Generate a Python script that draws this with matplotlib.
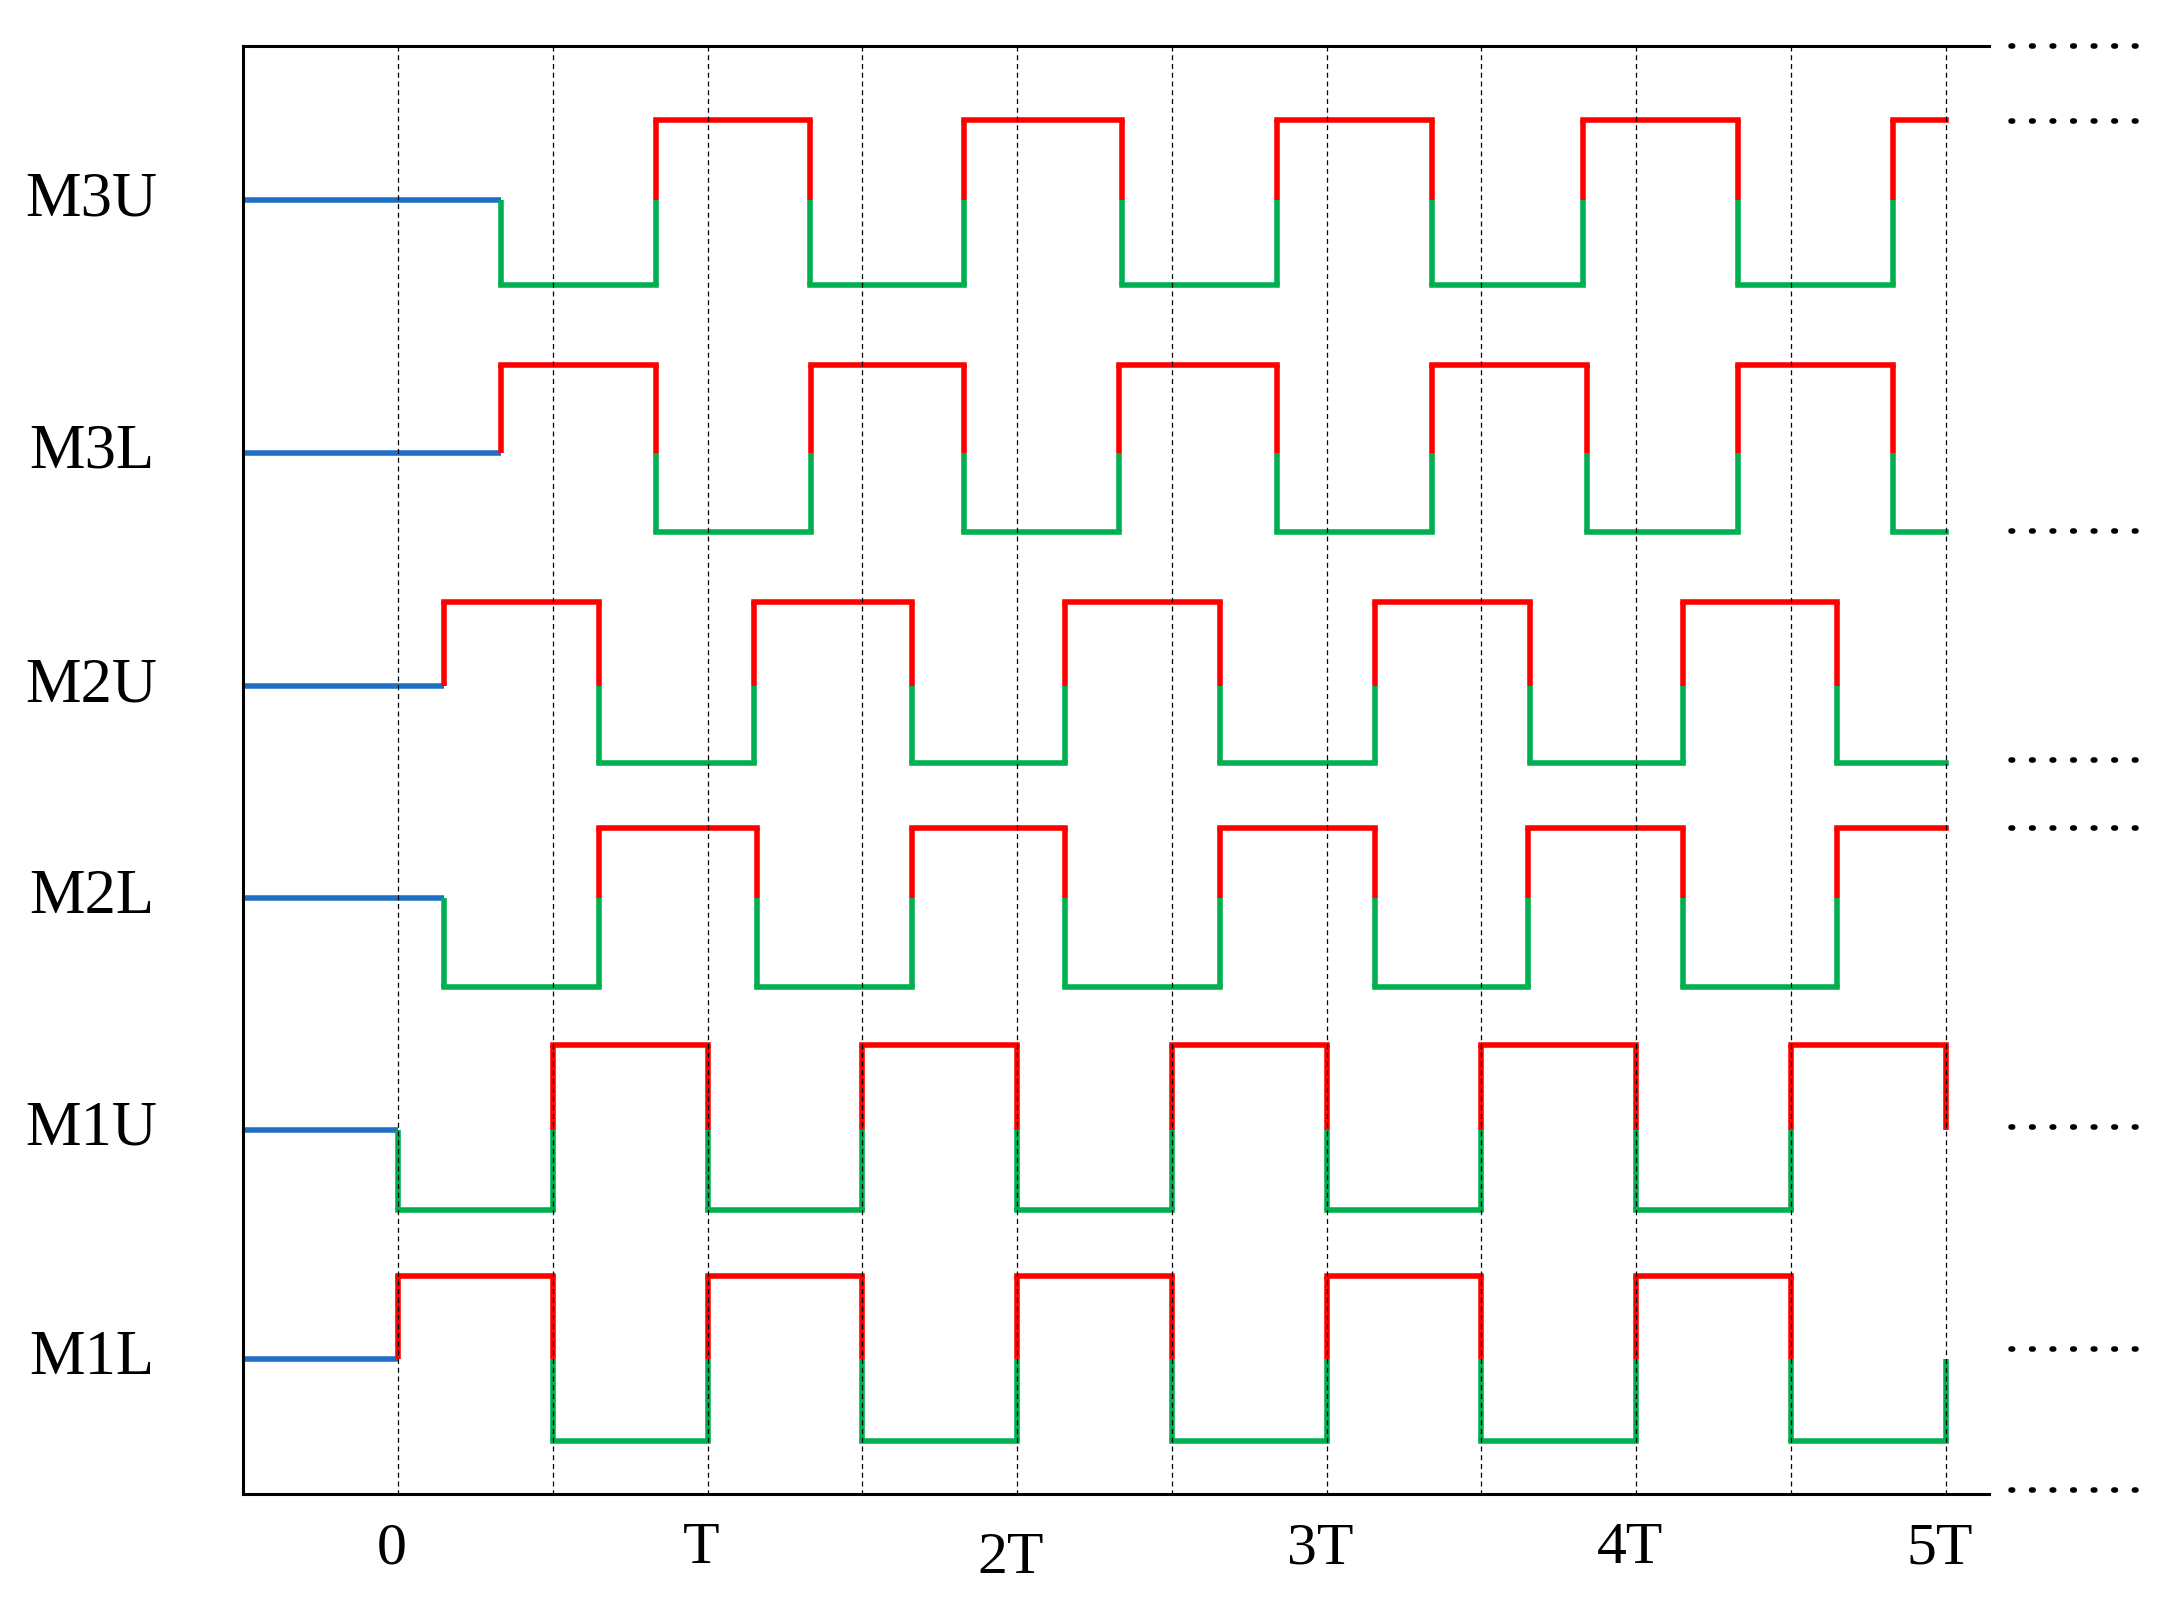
import matplotlib.pyplot as plt

# rows: label, mid level, high level, low level (vertical position, top = small)
labels = ['M3U', 'M3L', 'M2U', 'M2L', 'M1U', 'M1L']
mids = [144, 326, 494, 646, 813, 978]
highs = [86, 263, 433, 596, 752, 918]
lows = [205, 383, 549, 710, 871, 1037]
# time (in T) where the blue idle line ends, first direction (+1 up, -1 down)
starts = [0.334, 0.334, 0.149, 0.149, 0.0, 0.0]
first_dir = [-1, 1, 1, -1, -1, 1]
# switching instants after the start, in T
switches = [
    [0.835, 1.331, 1.83, 2.34, 2.84, 3.34, 3.83, 4.33, 4.83],
    [0.835, 1.335, 1.83, 2.33, 2.84, 3.34, 3.84, 4.33, 4.83],
    [0.650, 1.149, 1.66, 2.156, 2.655, 3.156, 3.657, 4.15, 4.65],
    [0.650, 1.16, 1.66, 2.156, 2.655, 3.156, 3.65, 4.15, 4.65],
    [0.50, 1.0, 1.5, 2.0, 2.5, 3.0, 3.5, 4.0, 4.5, 5.0],
    [0.50, 1.0, 1.5, 2.0, 2.5, 3.0, 3.5, 4.0, 4.5, 5.0],
]
t_end = 5.0
dot_rows = [33, 87, 382, 547, 596, 811, 971, 1072]
tick_pos = [0, 1, 2, 3, 4, 5]
tick_lab = ['0', 'T', '2T', '3T', '4T', '5T']

RED, GREEN, BLUE = '#ff0000', '#00b050', '#1f6fc5'
LW = 4

fig = plt.figure(figsize=(21.7, 15.98), dpi=100)
ax = fig.add_axes([0, 0, 1, 1])
ax.set_xlim(-1.286, 5.725)
ax.set_ylim(1150, 0)
ax.axis('off')

def vert(x, mid, hi, lo, to_state, from_state, last=False):
    # vertical part: upper half red, lower half green
    if from_state == 1 or (to_state == 1 and not last):
        ax.plot([x, x], [mid, hi], color=RED, lw=LW, solid_capstyle='butt')
    if from_state == -1 or (to_state == -1 and not last):
        ax.plot([x, x], [mid, lo], color=GREEN, lw=LW, solid_capstyle='butt')

for lab, mid, hi, lo, s, d, sw in zip(labels, mids, highs, lows, starts, first_dir, switches):
    ax.plot([-0.5, s], [mid, mid], color=BLUE, lw=LW, solid_capstyle='butt')
    state = d
    vert(s, mid, hi, lo, state, 0)
    times = [s] + sw
    for i, t0 in enumerate(times):
        t1 = times[i + 1] if i + 1 < len(times) else t_end
        if t1 > t0:
            y = hi if state == 1 else lo
            ax.plot([t0, t1], [y, y], color=RED if state == 1 else GREEN, lw=LW,
                    solid_capstyle='projecting')
        if i + 1 < len(times):
            vert(t1, mid, hi, lo, -state, state, last=(t1 >= t_end))
            state = -state
    ax.text(-0.99, mid, lab, fontsize=45, family='Liberation Serif',
            ha='center', va='center')

# frame: left, top, bottom lines
ax.plot([-0.5, -0.5], [33, 1075], color='black', lw=2.2)
ax.plot([-0.5, 5.14], [33, 33], color='black', lw=2.2)
ax.plot([-0.5, 5.14], [1075, 1075], color='black', lw=2.2)
for k in range(11):
    ax.plot([k * 0.5, k * 0.5], [33, 1075], color='black', lw=0.9, ls=(0, (4, 3)))
for y in dot_rows:
    ax.plot([5.21, 5.66], [y, y], color='black', lw=4, ls=(0, (0.3, 3.4)),
            dash_capstyle='round')
for p, l in zip(tick_pos, tick_lab):
    ax.text(p - 0.02, 1115 if l != '2T' else 1122, l, fontsize=43,
            family='Liberation Serif', ha='center', va='center')

fig.savefig('out.png', dpi=100)
